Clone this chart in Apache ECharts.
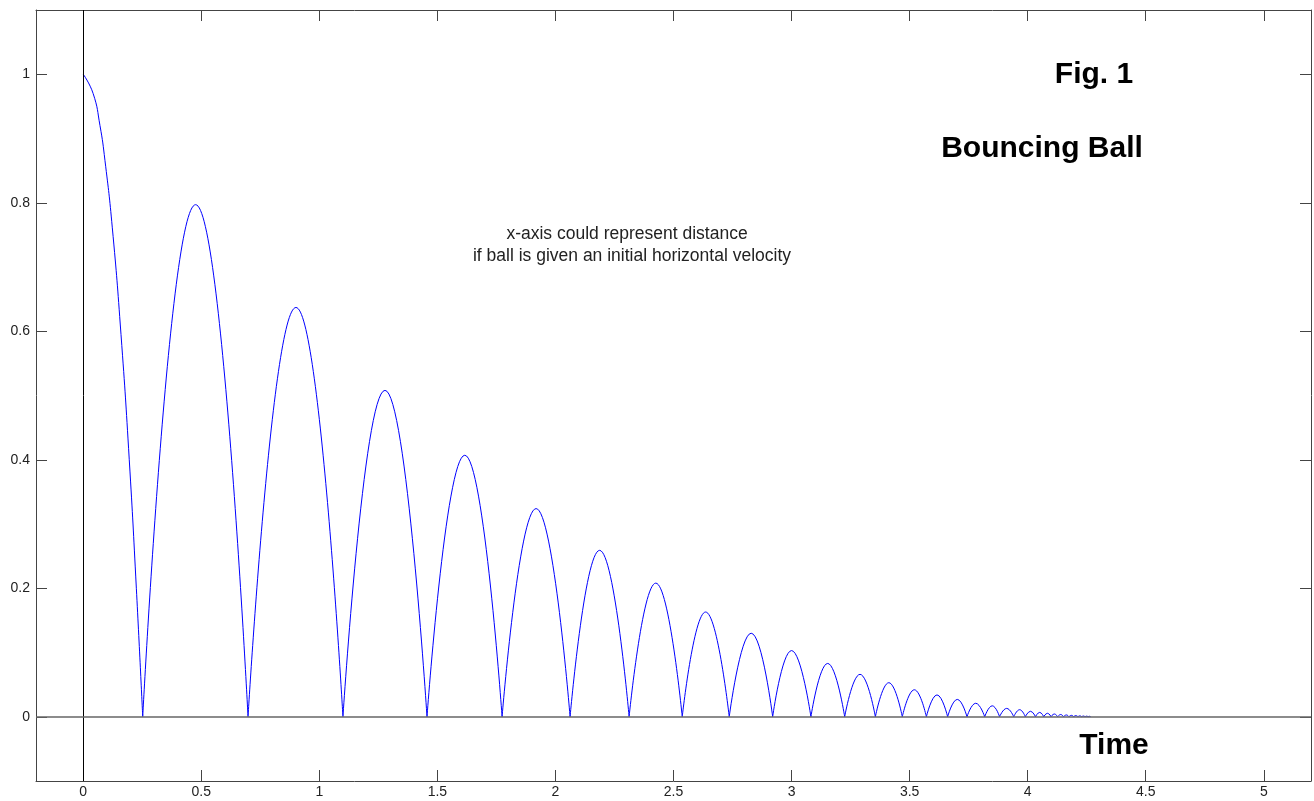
<!DOCTYPE html>
<html>
<head>
<meta charset="utf-8">
<script src="https://cdn.jsdelivr.net/npm/echarts@6/dist/echarts.min.js"></script>
<style>
  html, body { margin: 0; padding: 0; background: #fff; }
  #main { width: 1314px; height: 801px; }
</style>
</head>
<body>
<div id="main"></div>
<script>
var myChart = echarts.init(document.getElementById("main"));

// tick labels
var xTicks = [0, 0.5, 1, 1.5, 2, 2.5, 3, 3.5, 4, 4.5, 5];
var yTicks = [0, 0.2, 0.4, 0.6, 0.8, 1];

// first fall from the release height
var dropX = [0, 0.042, 0.071, 0.092, 0.123, 0.16, 0.195, 0.225, 0.252];
var dropY = [1, 0.97, 0.92, 0.866, 0.762, 0.595, 0.4, 0.2, 0];

// times where the ball hits the ground
var bounceX = [0.252, 0.698, 1.1, 1.456, 1.774, 2.062, 2.312, 2.537, 2.736, 2.92,
  3.082, 3.225, 3.355, 3.469, 3.571, 3.661, 3.743, 3.818, 3.881, 3.941,
  3.99, 4.033, 4.068, 4.099, 4.127, 4.152, 4.175, 4.195, 4.213, 4.229,
  4.243, 4.256, 4.267];

// top of each bounce
var peakX = [0.476, 0.901, 1.278, 1.616, 1.918, 2.187, 2.425, 2.636, 2.829, 3.0,
  3.153, 3.29, 3.412, 3.52, 3.616, 3.702, 3.78, 3.85, 3.911, 3.966,
  4.012, 4.051, 4.084, 4.113, 4.14, 4.164, 4.185, 4.204, 4.221, 4.236,
  4.25, 4.262];
var peakY = [0.797, 0.637, 0.508, 0.407, 0.324, 0.259, 0.208, 0.163, 0.13, 0.103,
  0.083, 0.066, 0.053, 0.042, 0.034, 0.027, 0.021, 0.017, 0.013, 0.011,
  0.0085, 0.0068, 0.0054, 0.0043, 0.0035, 0.0028, 0.0022, 0.0018, 0.0014, 0.0011,
  0.0009, 0.0007];

var lineColor = "#0000ff";
var frameColor = "#444";
var fontName = "Arial, 'Liberation Sans', sans-serif";

var seriesArr = [];

seriesArr.push({
  type: "line",
  smooth: true,
  showSymbol: false,
  silent: true,
  lineStyle: { color: lineColor, width: 1 },
  data: dropX.map(function (x, i) { return [x, dropY[i]]; }),
  markLine: {
    silent: true,
    symbol: ["none", "none"],
    label: { show: false },
    animation: false,
    data: [
      { xAxis: 0, lineStyle: { color: "#000", width: 1, type: "solid" } },
      { yAxis: 0, lineStyle: { color: "#666", width: 1.5, type: "solid" } },
    ],
  },
});

peakX.forEach(function (px, i) {
  seriesArr.push({
    type: "line",
    smooth: true,
    showSymbol: false,
    silent: true,
    lineStyle: { color: lineColor, width: 1 },
    data: [[bounceX[i], 0], [px, peakY[i]], [bounceX[i + 1], 0]],
  });
});

function makeX(pos, showLabel) {
  return {
    type: "value",
    min: -0.2,
    max: 5.2,
    position: pos,
    axisLine: { show: true, onZero: false, lineStyle: { color: frameColor, width: 1 } },
    axisTick: { show: true, inside: true, length: 11, customValues: xTicks, lineStyle: { color: frameColor } },
    axisLabel: { show: showLabel, customValues: xTicks, color: "#222", fontSize: 14, fontFamily: fontName, margin: 4 },
    splitLine: { show: false },
  };
}

function makeY(pos, showLabel) {
  return {
    type: "value",
    min: -0.1,
    max: 1.1,
    position: pos,
    axisLine: { show: true, onZero: false, lineStyle: { color: frameColor, width: 1 } },
    axisTick: { show: true, inside: true, length: 11, customValues: yTicks, lineStyle: { color: frameColor } },
    axisLabel: { show: showLabel, customValues: yTicks, color: "#222", fontSize: 14, fontFamily: fontName, margin: 6 },
    splitLine: { show: false },
  };
}

option = {
  backgroundColor: "#fff",
  animation: false,
  grid: { left: 36, top: 10, right: 3, bottom: 20, containLabel: false },
  xAxis: [makeX("bottom", true), makeX("top", false)],
  yAxis: [makeY("left", true), makeY("right", false)],
  graphic: [
    {
      type: "text", x: 1094, y: 75,
      style: { text: "Fig. 1", font: "bold 30px " + fontName, fill: "#000", align: "center", verticalAlign: "middle" },
    },
    {
      type: "text", x: 1042, y: 149,
      style: { text: "Bouncing Ball", font: "bold 30px " + fontName, fill: "#000", align: "center", verticalAlign: "middle" },
    },
    {
      type: "text", x: 627, y: 234,
      style: { text: "x-axis could represent distance", font: "17.5px " + fontName, fill: "#222", align: "center", verticalAlign: "middle" },
    },
    {
      type: "text", x: 632, y: 256,
      style: { text: "if ball is given an initial horizontal velocity", font: "17.5px " + fontName, fill: "#222", align: "center", verticalAlign: "middle" },
    },
    {
      type: "text", x: 1114, y: 746,
      style: { text: "Time", font: "bold 30px " + fontName, fill: "#000", align: "center", verticalAlign: "middle" },
    },
  ],
  series: seriesArr,
};
myChart.setOption(option);
</script>
</body>
</html>
